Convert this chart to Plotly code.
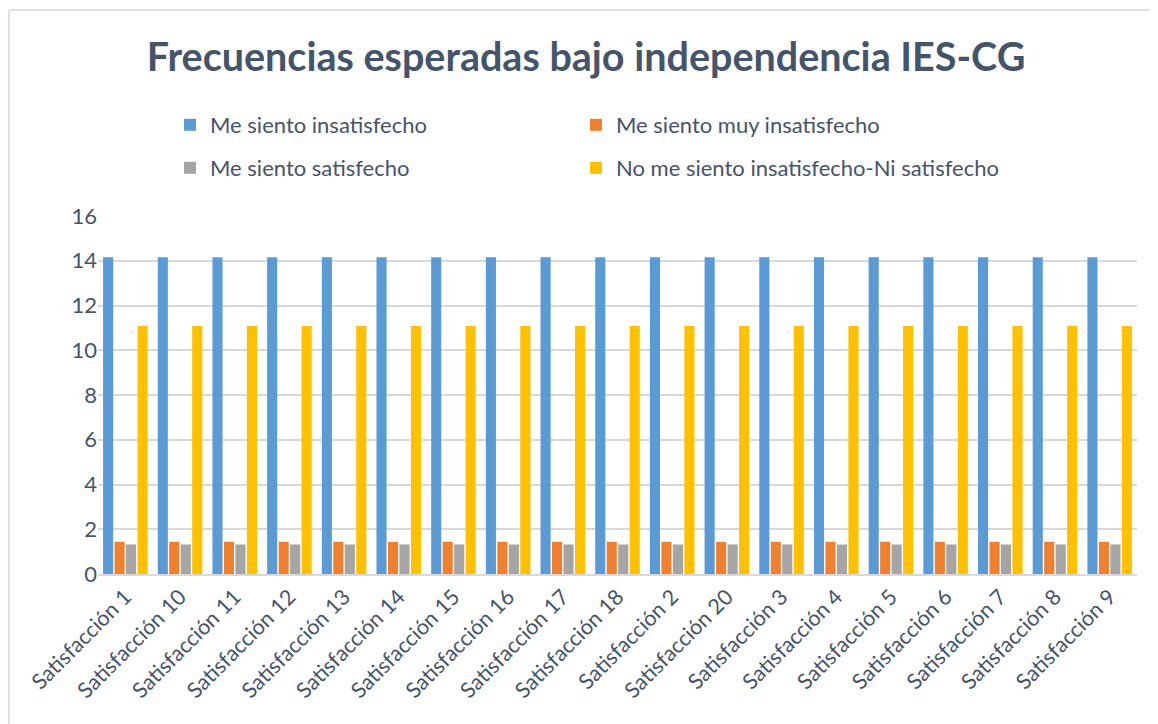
import plotly.graph_objects as go

categories = ["Satisfacción 1", "Satisfacción 10", "Satisfacción 11", "Satisfacción 12",
              "Satisfacción 13", "Satisfacción 14", "Satisfacción 15", "Satisfacción 16",
              "Satisfacción 17", "Satisfacción 18", "Satisfacción 2", "Satisfacción 20",
              "Satisfacción 3", "Satisfacción 4", "Satisfacción 5", "Satisfacción 6",
              "Satisfacción 7", "Satisfacción 8", "Satisfacción 9"]
n = len(categories)
insatisfecho = [14.16] * n
muy_insatisfecho = [1.44] * n
satisfecho = [1.32] * n
ni_ni = [11.08] * n

series = [
    ("Me siento insatisfecho", insatisfecho, "#5B9BD5"),
    ("Me siento muy insatisfecho", muy_insatisfecho, "#F07F2E"),
    ("Me siento satisfecho", satisfecho, "#A5A5A5"),
    ("No me siento insatisfecho-Ni satisfecho", ni_ni, "#FFC000"),
]
legend_ids = ["legend", "legend2", "legend3", "legend4"]

font_family = "Lato, 'Open Sans', sans-serif"
text_color = "#44546A"

fig = go.Figure()
for (name, vals, color), lg in zip(series, legend_ids):
    fig.add_trace(go.Bar(x=categories, y=vals, name=name, legend=lg, showlegend=True,
                         marker=dict(color=color, line=dict(width=0))))

# page body has an 8px margin, so figure coords = screen coords - 8
W, H = 1150, 716
ml, mr, mt, mb = 90, 21, 208, 150
pw = W - ml - mr
ph = H - mt - mb

def leg(xpx, ypx):
    return dict(orientation="h", xref="container", yref="container", visible=True,
                x=xpx / W, xanchor="left", y=1 - ypx / H, yanchor="middle",
                font=dict(size=22, color=text_color, family=font_family),
                itemwidth=30, bgcolor="rgba(0,0,0,0)")

fig.update_layout(
    width=W, height=H, showlegend=True,
    margin=dict(l=ml, r=mr, t=mt, b=mb, autoexpand=False),
    paper_bgcolor="white", plot_bgcolor="white",
    font=dict(family=font_family, color=text_color, size=21),
    title=dict(text="<b>Frecuencias esperadas bajo independencia IES-CG</b>",
               x=578 / W, xref="container", xanchor="center",
               y=1 - 49 / H, yref="container", yanchor="middle",
               font=dict(size=39.5, color=text_color, family=font_family)),
    barmode="group", bargap=0.16, bargroupgap=0.12,
    legend=leg(162, 117),
    legend2=leg(568, 117),
    legend3=leg(162, 160),
    legend4=leg(568, 160),
    xaxis=dict(tickangle=-45, showgrid=False, showline=True, linecolor="#D9D9D9",
               linewidth=1.5, ticks="", automargin=False,
               tickfont=dict(size=21.5, color=text_color)),
    yaxis=dict(range=[0, 16], dtick=2, showgrid=True, gridcolor="#D9D9D9",
               gridwidth=1.5, zeroline=False, showline=False, ticks="",
               automargin=False,
               tickfont=dict(size=22, color=text_color), ticklabelstandoff=0),
    shapes=[
        dict(type="line", xref="paper", yref="paper",
             x0=(1 - ml) / pw, x1=(W - ml) / pw,
             y0=1 + (mt - 2) / ph, y1=1 + (mt - 2) / ph,
             line=dict(color="#DDE1E8", width=2), layer="below"),
        dict(type="line", xref="paper", yref="paper",
             x0=(1 - ml) / pw, x1=(1 - ml) / pw,
             y0=-mb / ph, y1=1 + (mt - 2) / ph,
             line=dict(color="#DDE1E8", width=2), layer="below"),
    ],
)

fig.write_html("out.html")
